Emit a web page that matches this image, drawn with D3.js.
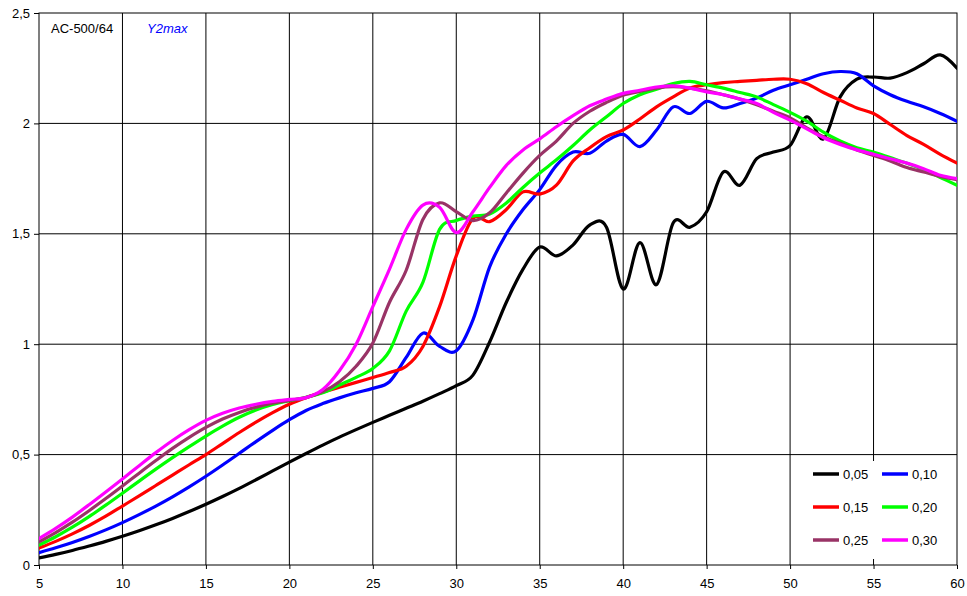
<!DOCTYPE html>
<html>
<head>
<meta charset="utf-8">
<script src="https://cdn.jsdelivr.net/npm/d3@7/dist/d3.min.js"></script>
<style>
  html, body { margin: 0; padding: 0; background: #fff; }
  svg { display: block; font-family: "Liberation Sans", Arial, sans-serif; }
</style>
</head>
<body>
<svg id="chart" width="967" height="596"></svg>
<script>
// Abscissa points shared by every series
const xs = [5,6,7,8,9,10,11,12,13,14,15,16,17,18,19,20,21,22,23,24,25,26,27,28,29,30,
            31,32,33,34,35,36,37,38,39,40,41,42,43,44,45,46,47,48,49,50,51,52,53,54,55,56,57,58,59,60];

const s005 = [0.032,0.048,0.066,0.086,0.107,0.13,0.155,0.182,0.211,0.242,0.275,0.31,0.347,0.386,0.426,0.466,
              0.505,0.543,0.579,0.613,0.646,0.678,0.71,0.742,0.776,0.812,0.86,1.01,1.19,1.34,1.44,1.40,1.45,1.54,1.53,
              1.25,1.46,1.27,1.55,1.53,1.60,1.78,1.72,1.84,1.87,1.90,2.03,1.93,2.12,2.20,2.21,2.205,2.23,2.27,2.31,2.25];
const s010 = [0.056,0.078,0.102,0.129,0.159,0.192,0.228,0.267,0.309,0.354,0.402,0.453,0.506,0.559,0.61,0.658,
              0.70,0.731,0.757,0.78,0.80,0.83,0.94,1.05,0.99,0.97,1.11,1.35,1.50,1.61,1.70,1.81,1.87,1.865,1.92,
              1.95,1.895,1.97,2.075,2.045,2.10,2.07,2.09,2.115,2.15,2.175,2.20,2.225,2.235,2.225,2.17,2.13,2.10,2.075,2.045,2.01];
const s015 = [0.077,0.107,0.141,0.179,0.221,0.267,0.313,0.36,0.407,0.454,0.50,0.55,0.60,0.647,0.69,0.728,
              0.758,0.783,0.805,0.827,0.849,0.872,0.90,0.99,1.17,1.40,1.57,1.555,1.61,1.69,1.68,1.72,1.83,1.89,1.94,
              1.97,2.02,2.075,2.12,2.16,2.175,2.185,2.19,2.195,2.20,2.20,2.18,2.14,2.105,2.07,2.045,1.995,1.945,1.905,1.86,1.82];
const s020 = [0.09,0.128,0.171,0.219,0.271,0.325,0.38,0.434,0.486,0.536,0.584,0.629,0.669,0.702,0.727,0.744,
              0.76,0.78,0.815,0.85,0.89,0.97,1.15,1.28,1.52,1.56,1.58,1.59,1.64,1.71,1.775,1.835,1.90,1.97,2.03,
              2.09,2.13,2.155,2.18,2.19,2.175,2.16,2.14,2.12,2.085,2.05,2.01,1.96,1.92,1.89,1.87,1.845,1.82,1.79,1.755,1.72];
const s025 = [0.105,0.147,0.194,0.246,0.301,0.358,0.416,0.473,0.528,0.578,0.623,0.661,0.691,0.715,0.733,0.745,
              0.758,0.785,0.83,0.90,1.005,1.19,1.335,1.565,1.64,1.60,1.56,1.595,1.685,1.775,1.855,1.92,2.00,2.055,2.095,
              2.128,2.145,2.16,2.166,2.16,2.148,2.13,2.11,2.085,2.055,2.025,1.98,1.94,1.91,1.88,1.855,1.83,1.80,1.78,1.76,1.745];
const s030 = [0.12,0.166,0.217,0.273,0.331,0.39,0.45,0.509,0.564,0.613,0.655,0.687,0.711,0.728,0.741,0.75,
              0.758,0.795,0.88,1.00,1.17,1.34,1.52,1.63,1.62,1.505,1.60,1.71,1.81,1.88,1.93,1.985,2.035,2.08,2.11,
              2.136,2.15,2.165,2.17,2.16,2.143,2.13,2.11,2.09,2.05,2.015,1.975,1.935,1.905,1.88,1.86,1.84,1.82,1.795,1.765,1.75];

const seriesNames  = ["0,05","0,10","0,15","0,20","0,25","0,30"];
const seriesValues = [s005, s010, s015, s020, s025, s030];
const seriesColors = ["#000000","#0000ff","#ff0000","#00ff00","#993366","#ff00ff"];

const xTicks = [5,10,15,20,25,30,35,40,45,50,55,60];
const yTicks = [0,0.5,1,1.5,2,2.5];
const fmt = v => String(v).replace(".", ",");

const svg = d3.select("#chart");
const plotLeft = 39, plotRight = 957, plotTop = 13, plotBottom = 565;

const x = d3.scaleLinear().domain([5, 60]).range([plotLeft, plotRight]);
const y = d3.scaleLinear().domain([0, 2.5]).range([plotBottom, plotTop]);

// grid
const grid = svg.append("g");
grid.selectAll("line.v").data(xTicks.slice(1, -1)).join("line")
  .attr("class", "v")
  .attr("x1", d => x(d)).attr("x2", d => x(d))
  .attr("y1", plotTop).attr("y2", plotBottom)
  .attr("stroke", "#000").attr("stroke-width", 1);
grid.selectAll("line.h").data(yTicks.slice(1, -1)).join("line")
  .attr("class", "h")
  .attr("x1", plotLeft).attr("x2", plotRight)
  .attr("y1", d => y(d)).attr("y2", d => y(d))
  .attr("stroke", "#000").attr("stroke-width", 1);

// axes
const xAxis = d3.axisBottom(x).tickValues(xTicks).tickSize(4).tickFormat(fmt);
const yAxis = d3.axisLeft(y).tickValues(yTicks).tickSize(5).tickFormat(fmt);

const gx = svg.append("g").attr("transform", `translate(0,${plotBottom})`).call(xAxis);
gx.select(".domain").remove();
gx.selectAll("line").attr("stroke", "#000");
gx.selectAll("text").attr("font-size", 13).attr("fill", "#000").attr("dy", "1.25em");

const gy = svg.append("g").attr("transform", `translate(${plotLeft},0)`).call(yAxis);
gy.select(".domain").remove();
gy.selectAll("line").attr("stroke", "#000");
gy.selectAll("text").attr("font-size", 13).attr("fill", "#000").attr("x", -9);

// plot frame
svg.append("rect")
  .attr("x", plotLeft).attr("y", plotTop)
  .attr("width", plotRight - plotLeft).attr("height", plotBottom - plotTop)
  .attr("fill", "none").attr("stroke", "#000").attr("stroke-width", 1);

// series lines
const line = d3.line()
  .x((d, i) => x(xs[i]))
  .y(d => y(d))
  .curve(d3.curveCardinal.tension(0));

svg.append("clipPath").attr("id", "plotclip")
  .append("rect").attr("x", plotLeft).attr("y", plotTop)
  .attr("width", plotRight - plotLeft).attr("height", plotBottom - plotTop);

svg.append("g").attr("clip-path", "url(#plotclip)")
  .selectAll("path").data(seriesValues).join("path")
  .attr("d", d => line(d))
  .attr("fill", "none")
  .attr("stroke", (d, i) => seriesColors[i])
  .attr("stroke-width", 3.2)
  .attr("stroke-linejoin", "round")
  .attr("stroke-linecap", "round");

// titles
svg.append("text").attr("x", 51).attr("y", 33)
  .attr("font-size", 13).attr("fill", "#000").text("AC-500/64");
svg.append("text").attr("x", 147).attr("y", 33)
  .attr("font-size", 13).attr("font-style", "italic").attr("fill", "#0000ff").text("Y2max");

// legend
const legend = svg.append("g");
legend.append("rect")
  .attr("x", 793).attr("y", 461).attr("width", 163).attr("height", 98)
  .attr("fill", "#fff");
const items = legend.selectAll("g.item").data(seriesNames).join("g")
  .attr("class", "item")
  .attr("transform", (d, i) => `translate(${i % 2 === 0 ? 813 : 882},${474 + Math.floor(i / 2) * 33})`);
items.append("line")
  .attr("x1", 0).attr("x2", 26).attr("y1", 0).attr("y2", 0)
  .attr("stroke", (d, i) => seriesColors[i]).attr("stroke-width", 3.5);
items.append("text")
  .attr("x", 30).attr("y", 4.5)
  .attr("font-size", 13).attr("fill", "#000")
  .text(d => d);
</script>
</body>
</html>
